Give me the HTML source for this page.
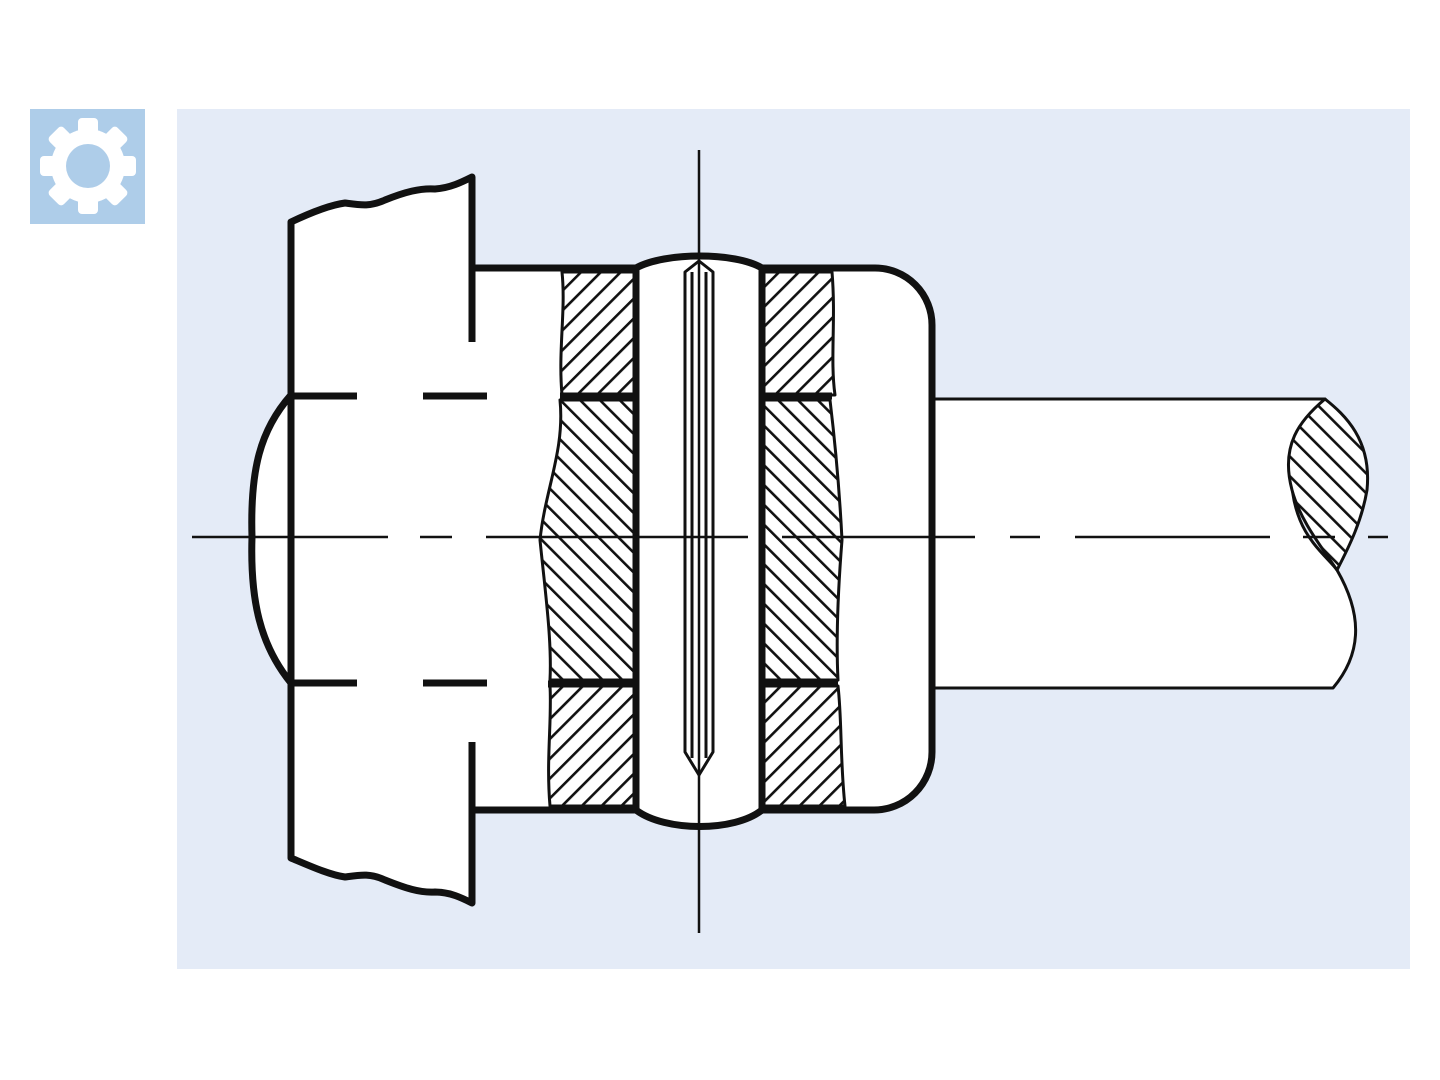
<!DOCTYPE html>
<html><head><meta charset="utf-8"><style>html,body{margin:0;padding:0;background:#fff}svg{display:block}</style></head>
<body>
<svg width="1440" height="1080" viewBox="0 0 1440 1080" xmlns="http://www.w3.org/2000/svg">
<defs>
<pattern id="hu" patternUnits="userSpaceOnUse" width="14" height="14" patternTransform="rotate(45)">
<rect width="14" height="14" fill="#fff"/><rect x="0" y="0" width="2.6" height="14" fill="#111"/></pattern>
<pattern id="hd" patternUnits="userSpaceOnUse" width="14" height="14" patternTransform="rotate(-45)">
<rect width="14" height="14" fill="#fff"/><rect x="0" y="0" width="2.6" height="14" fill="#111"/></pattern>
</defs>
<rect x="177" y="109" width="1233" height="860" fill="#e4ebf7"/>
<rect x="30" y="109" width="115" height="115" fill="#aecde9"/>
<g transform="translate(88,166)" fill="#fff">
<circle r="37"/>
<g id="t"><rect x="-10" y="-48" width="20" height="16" rx="4"/></g>
<use href="#t" transform="rotate(45)"/><use href="#t" transform="rotate(90)"/><use href="#t" transform="rotate(135)"/>
<use href="#t" transform="rotate(180)"/><use href="#t" transform="rotate(225)"/><use href="#t" transform="rotate(270)"/><use href="#t" transform="rotate(315)"/>
<circle r="22" fill="#aecde9"/>
</g>
<g stroke="#111" fill="none" stroke-linejoin="round">
<!-- shaft -->
<path d="M930,399 H1325 C1300,430 1280,470 1300,520 C1310,545 1330,560 1337,570 C1360,610 1365,650 1333,688 H930 Z" fill="#fff" stroke-width="3"/>
<path d="M1325,399 C1345,415 1372,440 1367,490 C1362,520 1350,545 1337,570 C1320,545 1300,520 1292,490 C1280,445 1300,420 1325,399 Z" fill="url(#hd)" stroke-width="3"/>
<!-- body -->
<path d="M472,268 H875 A57,57 0 0 1 932,325 V752 A58,58 0 0 1 874,810 H472 Z" fill="#fff" stroke="none"/>
<path d="M472,268 H875 A57,57 0 0 1 932,325 V752 A58,58 0 0 1 874,810 H472" stroke-width="7"/>
<!-- hatch regions -->
<path d="M562,272 H636 V395 H562 C558,350 566,310 562,272 Z" fill="url(#hu)" stroke-width="3"/>
<path d="M560,400 H636 V680 H550 C552,640 545,590 540,540 C545,490 565,450 560,400 Z" fill="url(#hd)" stroke-width="3"/>
<path d="M550,686 H636 V806 H550 C546,760 552,720 550,686 Z" fill="url(#hu)" stroke-width="3"/>
<path d="M762,272 H832 C836,320 830,360 835,395 H762 Z" fill="url(#hu)" stroke-width="3"/>
<path d="M762,400 H830 C836,450 840,500 842,540 C838,590 836,640 838,680 H762 Z" fill="url(#hd)" stroke-width="3"/>
<path d="M762,686 H838 C842,720 840,760 845,806 H762 Z" fill="url(#hu)" stroke-width="3"/>
<line x1="560" y1="396" x2="636" y2="396" stroke-width="7"/>
<line x1="762" y1="396" x2="832" y2="396" stroke-width="7"/>
<line x1="548" y1="684" x2="636" y2="684" stroke-width="7"/>
<line x1="762" y1="684" x2="838" y2="684" stroke-width="7"/>
<!-- pin -->
<path d="M636,268 C665,252 735,252 762,268 V810 C735,832 665,832 636,810 Z" fill="#fff" stroke-width="7"/>
<path d="M685,272 L699,261 L713,272 V752 L699,775 L685,752 Z" fill="#fff" stroke-width="3"/>
<line x1="692" y1="272" x2="692" y2="758" stroke-width="3"/>
<line x1="706" y1="272" x2="706" y2="758" stroke-width="3"/>
<!-- flange fill -->
<path d="M291,222 C310,213 330,205 345,203 C360,205 370,207 385,200 C405,192 420,188 435,189 C450,188 462,182 472,177 V903 C462,898 450,892 435,892 C420,893 405,888 385,880 C370,873 360,875 345,877 C330,875 310,866 291,858 Z" fill="#fff" stroke="none"/>
<path d="M291,395 C260,430 250,470 252,537 C250,600 260,645 291,683 Z" fill="#fff" stroke="none"/>
<path d="M291,395 C260,430 250,470 252,537 C250,600 260,645 291,683" stroke-width="7"/>
<!-- flange outline -->
<path d="M472,342 V177 C462,182 450,188 435,189 C420,188 405,192 385,200 C370,207 360,205 345,203 C330,205 310,213 291,222 V858 C310,866 330,875 345,877 C360,875 370,873 385,880 C405,888 420,893 435,892 C450,892 462,898 472,903 V742" stroke-width="7"/>
<path d="M291,396 H357 M423,396 H487 M291,683 H357 M423,683 H487" stroke-width="7"/>
<!-- centerlines -->
<path d="M192,537 H388 M420,537 H452 M486,537 H748 M782,537 H975 M1010,537 H1040 M1075,537 H1270 M1303,537 H1335 M1368,537 H1388" stroke-width="2.5"/>
<path d="M699,150 V933" stroke-width="2.5"/>
</g>
</svg>
</body></html>
